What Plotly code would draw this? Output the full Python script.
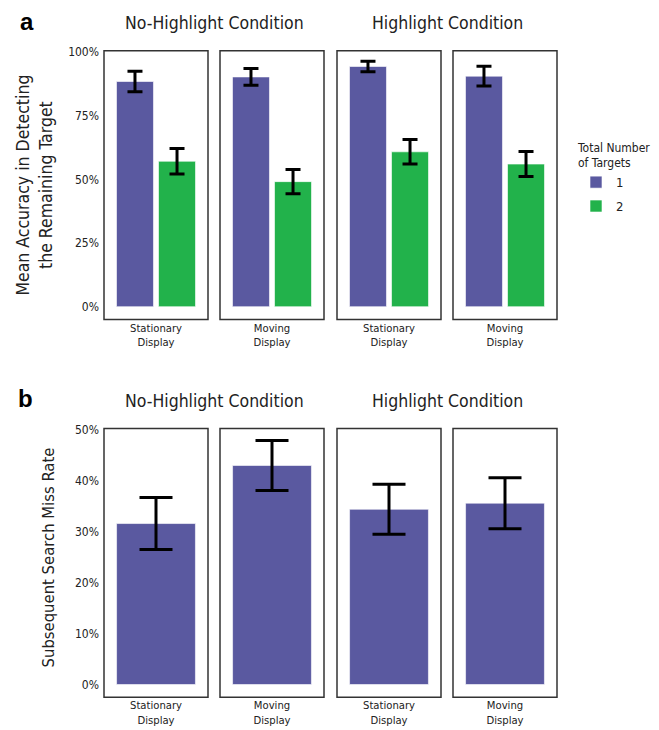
import plotly.graph_objects as go

# ---------------- data ----------------
conditions = ["No-Highlight Condition", "Highlight Condition"]
displays = ["Stationary<br>Display", "Moving<br>Display"]
series_names = ["1", "2"]

# panel a: mean accuracy (order: NoHL-Stat, NoHL-Mov, HL-Stat, HL-Mov)
acc_1 = [0.884, 0.902, 0.943, 0.905]
acc_1_err = [0.040, 0.033, 0.021, 0.039]
acc_2 = [0.571, 0.491, 0.608, 0.560]
acc_2_err = [0.050, 0.048, 0.048, 0.049]

# panel b: subsequent search miss rate
miss = [0.316, 0.430, 0.344, 0.356]
miss_err = [0.051, 0.049, 0.049, 0.050]

a_ticks = [0, 0.25, 0.5, 0.75, 1.0]
a_ticktext = ["0%", "25%", "50%", "75%", "100%"]
b_ticks = [0, 0.1, 0.2, 0.3, 0.4, 0.5]
b_ticktext = ["0%", "10%", "20%", "30%", "40%", "50%"]

# ---------------- style ----------------
OFF = 8  # default page body margin
W, H = 659 - OFF, 730 - OFF
PURPLE = "#5a59a0"
GREEN = "#22b24b"
FONT = "DejaVu Sans Condensed, DejaVu Sans, sans-serif"
TXT = "#222222"
BOX = "#333333"

box_x = [(104, 208), (220, 324), (337, 441), (453, 557)]
top_y = (45, 316)
bot_y = (426, 697)


def px_x(v):
    return (v - OFF) / W


def px_y(v):
    return 1 - (v - OFF) / H


fig = go.Figure()

disp_of = [displays[0], displays[1], displays[0], displays[1]]
bar_line = dict(color="rgba(255,255,255,0.6)", width=1)

for i in range(4):
    xa = "x" if i == 0 else f"x{i + 1}"
    xb = f"x{i + 5}"
    fig.add_trace(go.Bar(
        x=[disp_of[i]], y=[acc_1[i]], name=series_names[0], legendgroup="1",
        showlegend=(i == 0), marker=dict(color=PURPLE, line=bar_line),
        error_y=dict(type="data", array=[acc_1_err[i]], color="black", thickness=3, width=7.5),
        xaxis=xa, yaxis="y", offsetgroup="1"))
    fig.add_trace(go.Bar(
        x=[disp_of[i]], y=[acc_2[i]], name=series_names[1], legendgroup="2",
        showlegend=(i == 0), marker=dict(color=GREEN, line=bar_line),
        error_y=dict(type="data", array=[acc_2_err[i]], color="black", thickness=3, width=7.5),
        xaxis=xa, yaxis="y", offsetgroup="2"))
    fig.add_trace(go.Bar(
        x=[disp_of[i]], y=[miss[i]], name=series_names[0], showlegend=False, width=0.91,
        marker=dict(color=PURPLE, line=bar_line),
        error_y=dict(type="data", array=[miss_err[i]], color="black", thickness=3, width=16.5),
        xaxis=xb, yaxis="y2"))

layout = dict(
    width=W, height=H, margin=dict(l=0, r=0, t=0, b=0),
    paper_bgcolor="white", plot_bgcolor="white",
    barmode="group", bargap=0.03, bargroupgap=0.12,
    font=dict(family=FONT, color=TXT, size=12),
    showlegend=True,
    legend=dict(
        x=px_x(576), y=px_y(131), xanchor="left", yanchor="top",
        title=dict(text="Total Number<br>of Targets", font=dict(size=12, family=FONT, color=TXT)),
        font=dict(size=13, family=FONT, color=TXT),
        traceorder="grouped", itemwidth=30, tracegroupgap=4,
    ),
)

axis_common = dict(showgrid=False, zeroline=False, showline=False, ticks="",
                   tickfont=dict(size=11.2, family=FONT, color=TXT), fixedrange=True)

for i in range(4):
    xa_name = "xaxis" if i == 0 else f"xaxis{i + 1}"
    layout[xa_name] = dict(axis_common, domain=[px_x(box_x[i][0]), px_x(box_x[i][1])],
                           anchor="y", range=[-0.6, 0.6], type="category",
                           categoryorder="array", categoryarray=[disp_of[i]])
    layout[f"xaxis{i + 5}"] = dict(axis_common, domain=[px_x(box_x[i][0]), px_x(box_x[i][1])],
                                   anchor="y2", range=[-0.6, 0.6], type="category",
                                   categoryorder="array", categoryarray=[disp_of[i]])

ytick = dict(size=12, family=FONT, color=TXT)
layout["yaxis"] = dict(axis_common, domain=[px_y(top_y[1]), px_y(top_y[0])], anchor="x",
                       range=[-0.05, 1.005], tickvals=a_ticks, ticktext=a_ticktext,
                       ticklabelstandoff=4, tickfont=ytick)
layout["yaxis2"] = dict(axis_common, domain=[px_y(bot_y[1]), px_y(bot_y[0])], anchor="x5",
                        range=[-0.025, 0.5025], tickvals=b_ticks, ticktext=b_ticktext,
                        ticklabelstandoff=4, tickfont=ytick)

fig.update_layout(**layout)

# panel borders
shapes = []
for i in range(4):
    xr_top = "x domain" if i == 0 else f"x{i + 1} domain"
    xr_bot = f"x{i + 5} domain"
    shapes.append(dict(type="rect", xref=xr_top, yref="y domain", x0=0, x1=1, y0=0, y1=1,
                       line=dict(color=BOX, width=1.5), fillcolor="rgba(0,0,0,0)", layer="above"))
    shapes.append(dict(type="rect", xref=xr_bot, yref="y2 domain", x0=0, x1=1, y0=0, y1=1,
                       line=dict(color=BOX, width=1.5), fillcolor="rgba(0,0,0,0)", layer="above"))
fig.update_layout(shapes=shapes)

# annotations: panel letters, condition titles, y titles
ann = []
letter_font = dict(family="Liberation Sans, Arial, sans-serif", size=24, color="black")
ann.append(dict(text="<b>a</b>", x=px_x(19), y=px_y(16), xref="paper", yref="paper",
                xanchor="left", yanchor="middle", showarrow=False, borderpad=0, font=letter_font))
ann.append(dict(text="<b>b</b>", x=px_x(17), y=px_y(396), xref="paper", yref="paper",
                xanchor="left", yanchor="middle", showarrow=False, borderpad=0, font=letter_font))
title_font = dict(family=FONT, size=17.5, color=TXT)
for yy in (17, 398):
    ann.append(dict(text=conditions[0], x=px_x(214), y=px_y(yy), xref="paper", yref="paper",
                    xanchor="center", yanchor="middle", showarrow=False, font=title_font))
    ann.append(dict(text=conditions[1], x=px_x(447), y=px_y(yy), xref="paper", yref="paper",
                    xanchor="center", yanchor="middle", showarrow=False, font=title_font))
ann.append(dict(text="Mean Accuracy in Detecting<br>the Remaining Target", x=px_x(35), y=px_y(181),
                xref="paper", yref="paper", xanchor="center", yanchor="middle", showarrow=False,
                textangle=-90, font=dict(family=FONT, size=17.5, color=TXT)))
ann.append(dict(text="Subsequent Search Miss Rate", x=px_x(48), y=px_y(556),
                xref="paper", yref="paper", xanchor="center", yanchor="middle", showarrow=False,
                textangle=-90, font=dict(family=FONT, size=16.5, color=TXT)))
fig.update_layout(annotations=ann)

fig.write_html("out.html")
